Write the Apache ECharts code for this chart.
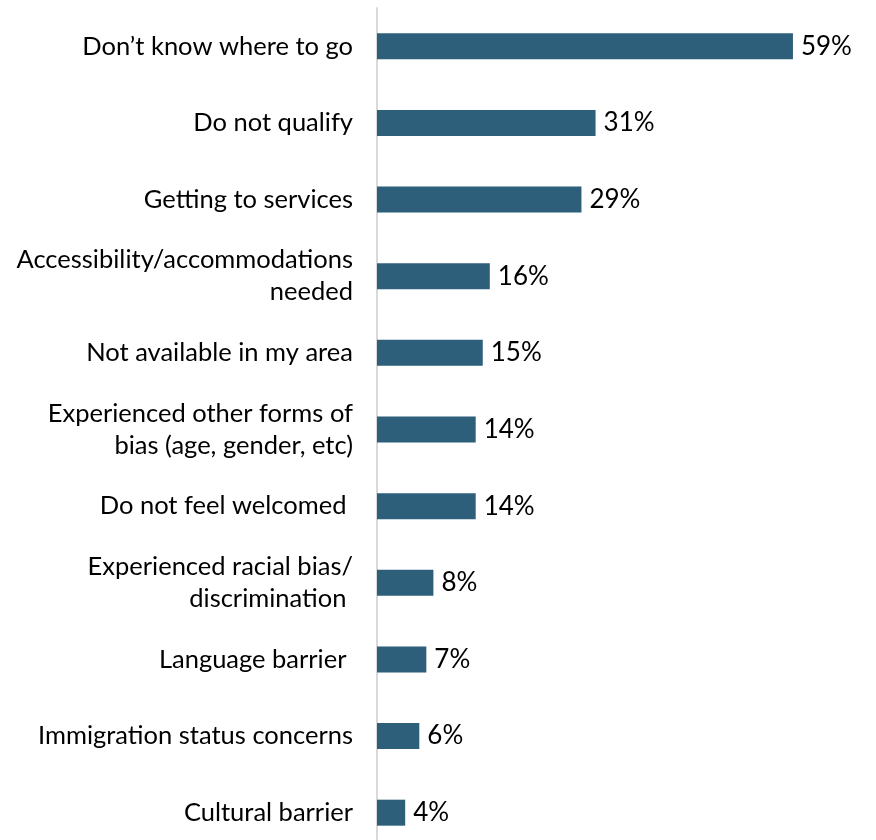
<!DOCTYPE html>
<html>
<head>
<meta charset="utf-8">
<script src="https://cdn.jsdelivr.net/npm/echarts@6/dist/echarts.min.js"></script>
<style>
html, body { margin: 0; padding: 0; background: #ffffff; }
#chart { width: 876px; height: 840px; }
</style>
</head>
<body>
<div id="chart"></div>
<script>
// Reasons for not using services, share of respondents (%)
const categories = [
  'Don\u2019t know where to go',
  'Do not qualify',
  'Getting to services',
  'Accessibility/accommodations\nneeded',
  'Not available in my area',
  'Experienced other forms of\nbias (age, gender, etc)',
  'Do not feel welcomed ',
  'Experienced racial bias/\ndiscrimination ',
  'Language barrier ',
  'Immigration status concerns',
  'Cultural barrier'
];
const values = [59, 31, 29, 16, 15, 14, 14, 8, 7, 6, 4];

const chart = echarts.init(document.getElementById('chart'));
chart.setOption({
  animation: false,
  // plot area runs slightly past the bottom edge so the last band is cut off
  grid: {
    left: 377, width: 493.5, top: 8, height: 843,
    containLabel: false,
    outerBoundsMode: 'none'
  },
  xAxis: {
    type: 'value',
    min: 0,
    max: 70,
    show: false
  },
  yAxis: {
    type: 'category',
    inverse: true,
    data: categories,
    axisLine: { show: true, lineStyle: { color: '#d9d9d9', width: 2 } },
    axisTick: { show: false },
    axisLabel: {
      margin: 24,
      fontFamily: 'Lato',
      fontSize: 25.5,
      lineHeight: 32,
      color: '#000000',
      align: 'right'
    }
  },
  series: [{
    type: 'bar',
    data: values,
    barWidth: 26,
    itemStyle: { color: '#2d5f7b' },
    label: {
      show: true,
      position: 'right',
      distance: 8,
      formatter: '{c}%',
      fontFamily: 'Lato',
      fontSize: 26,
      color: '#000000'
    }
  }]
});
</script>
</body>
</html>
